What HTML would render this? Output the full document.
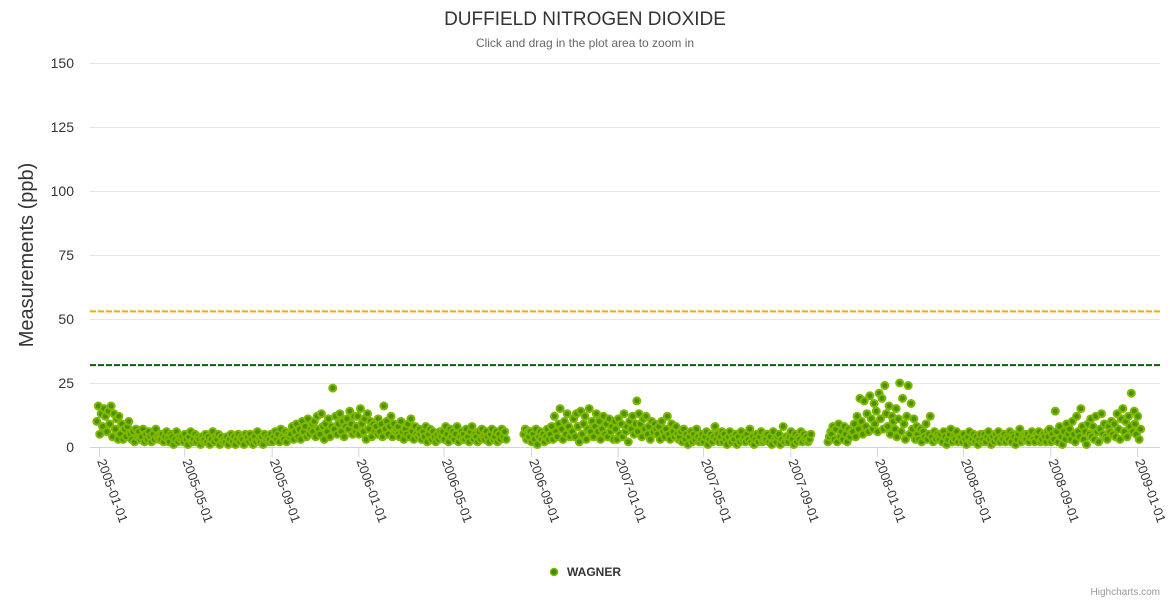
<!DOCTYPE html>
<html><head><meta charset="utf-8"><style>
body{margin:0;background:#fff;}
svg{display:block;font-family:"Liberation Sans",sans-serif;}
</style></head><body>
<svg id="chart" width="1170" height="600">
<text x="585" y="25" text-anchor="middle" font-size="19" fill="#333">DUFFIELD NITROGEN DIOXIDE</text>
<text x="585" y="47" text-anchor="middle" font-size="12" fill="#666">Click and drag in the plot area to zoom in</text>
<text transform="translate(33,255) rotate(-90)" text-anchor="middle" font-size="20" fill="#333">Measurements (ppb)</text>
<g id="grid"></g><g id="ylabels"></g><g id="xaxis"></g><g id="plot"></g><g id="points"></g>
<g>
<circle cx="554" cy="572" r="3.5" fill="#3f8a00" stroke="#7db800" stroke-width="1.5"/>
<text x="567" y="576" font-size="12" font-weight="bold" fill="#333">WAGNER</text>
</g>
<text x="1160" y="595" text-anchor="end" font-size="10" fill="#999">Highcharts.com</text>
</svg>
<script>
const yTicks=[0,25,50,75,100,125,150];
const xTickLabels=["2005-01-01","2005-05-01","2005-09-01","2006-01-01","2006-05-01","2006-09-01","2007-01-01","2007-05-01","2007-09-01","2008-01-01","2008-05-01","2008-09-01","2009-01-01"];
const plotLines=[53,32];
const months=["2005-01","2005-02","2005-03","2005-04","2005-05","2005-06","2005-07","2005-08","2005-09","2005-10","2005-11","2005-12","2006-01","2006-02","2006-03","2006-04","2006-05","2006-06","2006-07","2006-08","2006-09","2006-10","2006-11","2006-12","2007-01","2007-02","2007-03","2007-04","2007-05","2007-06","2007-07","2007-08","2007-09","2007-10","2007-11","2007-12","2008-01","2008-02","2008-03","2008-04","2008-05","2008-06","2008-07","2008-08","2008-09","2008-10","2008-11","2008-12","2009-01"];
const N=null;
const monthValues=[
[10,16,5,13,8,15,12,6,14,9,16,4,13,7,11,3],
[12,5,9,3,7,4,8,10,5,3,6,2,7,4,5],
[6,3,4,7,2,5,3,6,4,2,5,3,7,4,3,5],
[3,5,2,4,6,3,2,5,4,1,3,6,2,4,3],
[4,2,5,3,1,4,6,2,3,5,2,4,3,1,4,2],
[3,5,2,4,1,3,6,2,4,3,5,1,4,2,3],
[2,4,1,3,5,2,4,1,3,5,2,4,3,1,5,3],
[4,2,5,3,1,4,2,6,3,2,4,1,5,3,4,2],
[3,5,2,4,6,3,5,2,7,4,3,6,2,5,4],
[5,8,3,6,9,4,7,3,10,6,8,4,11,5,7,9],
[6,10,4,12,7,5,13,8,3,9,6,11,4,8,23],
[7,12,5,9,13,6,10,4,8,11,7,14,9,5,12,6],
[8,12,5,15,9,6,11,3,13,7,10,4,9,6,8,5],
[11,6,9,4,16,7,10,5,8,12,4,9,6,7,5],
[8,4,10,6,3,7,5,9,4,11,6,3,8,5,4,7],
[5,3,6,4,8,2,5,7,3,6,4,2,5,3,6],
[4,6,3,8,5,2,7,4,6,3,5,8,2,4,6,3],
[5,3,7,4,2,6,8,3,5,4,2,6,3,7,4],
[3,6,4,2,5,7,3,4,6,2,5,3,7,4,6,3],
[N,N,N,N,N,N,N,N,N,N,N,N,5,7,3,6],
[4,6,2,5,3,7,1,4,6,3,5,2,4,7,3],
[5,8,3,12,6,4,9,15,7,3,10,5,13,8,4,6],
[6,11,4,13,8,2,14,5,9,12,3,7,15,6,10],
[4,8,13,6,10,3,7,12,5,9,4,11,6,8,3,10],
[7,3,11,5,9,4,13,6,8,2,10,7,12,5,9,18],
[6,13,9,4,11,7,12,5,8,3,10,6,9,7],
[5,8,3,10,6,4,7,12,5,3,9,6,4,8,5,3],
[4,6,2,7,3,5,1,4,6,2,5,3,7,4,2],
[3,5,2,4,6,1,3,5,2,4,8,3,5,2,4,6],
[2,5,3,1,4,6,2,4,3,5,1,4,2,6,3],
[4,2,5,3,7,2,4,1,3,5,2,4,6,2,3,5],
[3,5,2,4,1,6,3,2,4,5,1,3,8,2,4,3],
[2,4,6,3,1,5,2,4,3,6,2,5,3,4,2],
[3,5,N,N,N,N,N,N,N,N,N,N,N,2,4,6],
[5,8,3,7,2,9,4,6,3,8,5,2,7,4,6],
[6,9,4,12,7,19,10,5,18,8,13,6,20,11,7,17],
[9,14,6,21,11,19,7,24,13,8,16,5,12,10,7,15],
[4,11,25,6,19,9,3,12,24,5,17,7,11,3,8],
[5,3,7,2,6,4,9,3,5,12,4,2,6,3,5,4],
[3,5,2,6,4,1,3,5,7,2,4,3,6,2,4],
[4,2,5,3,1,4,6,2,3,5,2,4,1,3,5,2],
[3,5,2,4,6,3,1,4,2,5,3,6,2,4,3],
[5,2,4,3,6,2,5,4,1,3,5,7,2,4,3,5],
[3,5,2,4,6,3,2,5,4,6,2,3,5,4,2,6],
[4,7,2,5,3,14,6,2,8,4,1,6,3,9,5],
[7,3,10,5,2,12,6,4,15,8,3,6,1,9,5,11],
[4,8,3,12,6,2,7,13,5,9,4,3,8,6,10],
[5,9,4,13,7,3,11,15,6,10,4,12,8,21,6,14],
[9,5,12,3,7]
];
const NS="http://www.w3.org/2000/svg";
const X0=99,X1=1137,T0=Date.UTC(2005,0,1),T1=Date.UTC(2009,0,1);
const PL=90,PR=1160,PT=63,PB=447,YMAX=150;
function xs(t){return X0+(t-T0)/(T1-T0)*(X1-X0);}
function ys(v){return PB-v/YMAX*(PB-PT);}
function mk(tag,attrs,parent){const e=document.createElementNS(NS,tag);for(const k in attrs)e.setAttribute(k,attrs[k]);parent.appendChild(e);return e;}
const grid=document.getElementById('grid'),yl=document.getElementById('ylabels'),xa=document.getElementById('xaxis'),plot=document.getElementById('plot'),pts=document.getElementById('points');
yTicks.forEach(v=>{
 if(v>0){const l=mk('line',{x1:PL,x2:PR,y1:ys(v)+0.5,y2:ys(v)+0.5,stroke:'#e6e6e6','stroke-width':1},grid);
 
 }
 const t=mk('text',{x:74,y:ys(v)+5,'text-anchor':'end','font-size':14,fill:'#333'},yl);t.textContent=v;
 
 
});
const ax=mk('line',{x1:PL,x2:PR,y1:PB+0.5,y2:PB+0.5,stroke:'#ccd6eb','stroke-width':1},xa);


xTickLabels.forEach(s=>{
 const p=s.split('-').map(Number);const x=xs(Date.UTC(p[0],p[1]-1,p[2]));
 const tk=mk('line',{x1:x+0.5,x2:x+0.5,y1:PB,y2:PB+10,stroke:'#ccd6eb'},xa);
 
 
 const t=mk('text',{transform:`translate(${x-2},${PB+14}) rotate(70)`,'font-size':13,fill:'#333'},xa);t.textContent=s;
 
 
});
const plColors=['#ffa500','#006400'];
plotLines.forEach((v,i)=>{
 const l=mk('line',{x1:PL,x2:PR,y1:ys(v),y2:ys(v),stroke:plColors[i],'stroke-width':2,'stroke-dasharray':'6,2'},plot);
 
 
});
months.forEach((m,mi)=>{
 const p=m.split('-').map(Number);
 monthValues[mi].forEach((v,i)=>{
  if(v===null)return;
  const t=Date.UTC(p[0],p[1]-1,1+i*2)-3*86400000;
  const c=mk('circle',{cx:xs(t),cy:ys(v),r:3.5,fill:'#4a9200',stroke:'#80b800','stroke-width':2},pts);
  
  
 });
});
</script>
</body></html>
